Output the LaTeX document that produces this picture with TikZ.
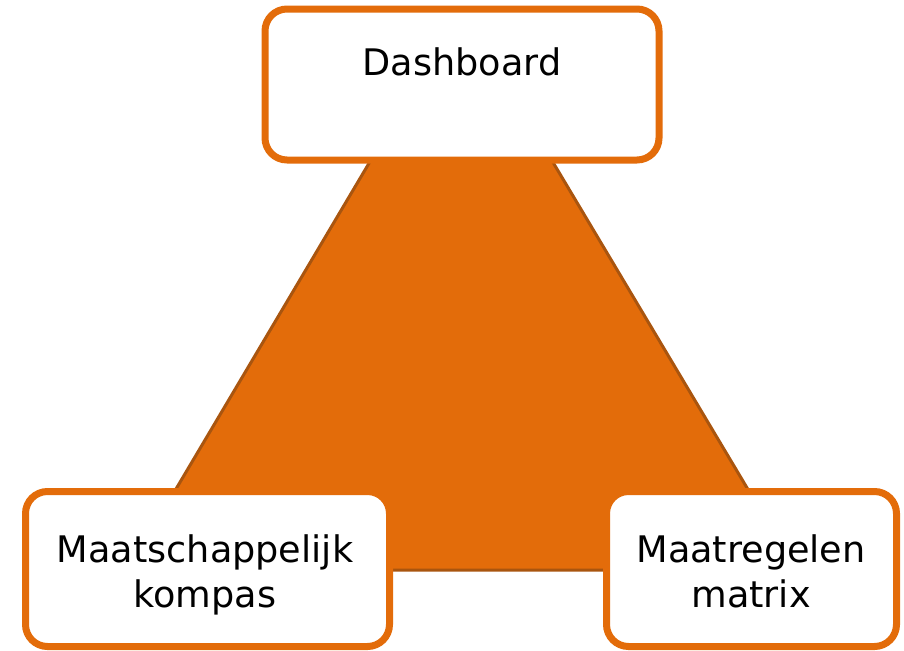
\documentclass[tikz,border=0pt]{standalone}
\usepackage{fontspec}
\setmainfont{DejaVu Sans}
\definecolor{oranje}{HTML}{E36C0A}
\definecolor{donkeroranje}{HTML}{A9550F}

\begin{document}
\begin{tikzpicture}[x=0.5pt, y=0.5pt]
\tikzset{kader/.style={draw=oranje, line width=3.5pt, fill=white, rounded corners=11pt},
         tekst/.style={font=\fontsize{18.3}{22.5}\selectfont, align=center, text=black}}
\useasboundingbox (0, 0) rectangle (904, 650);
\coordinate (T) at (461, 642);
\coordinate (L) at (128, 80);
\coordinate (R) at (796, 80);
\filldraw[fill=oranje, draw=donkeroranje, line width=1.5pt, line join=bevel] (L) -- (R) -- (T) -- cycle;
\node[kader, minimum width=197pt, minimum height=75.5pt] (dash) at (462, 565.5) {};
\node[kader, minimum width=182pt, minimum height=77.5pt] (kompas) at (207.5, 81) {};
\node[kader, minimum width=145pt, minimum height=77.5pt] (matrix) at (751.5, 81) {};
\node[tekst, anchor=base] (dashtxt) at (462, 575) {Dashboard};
\node[tekst] (kompastxt) at (205, 75) {Maatschappelijk\\kompas};
\node[tekst] (matrixtxt) at (751, 75) {Maatregelen\\matrix\vphantom{p}};
\end{tikzpicture}
\end{document}
